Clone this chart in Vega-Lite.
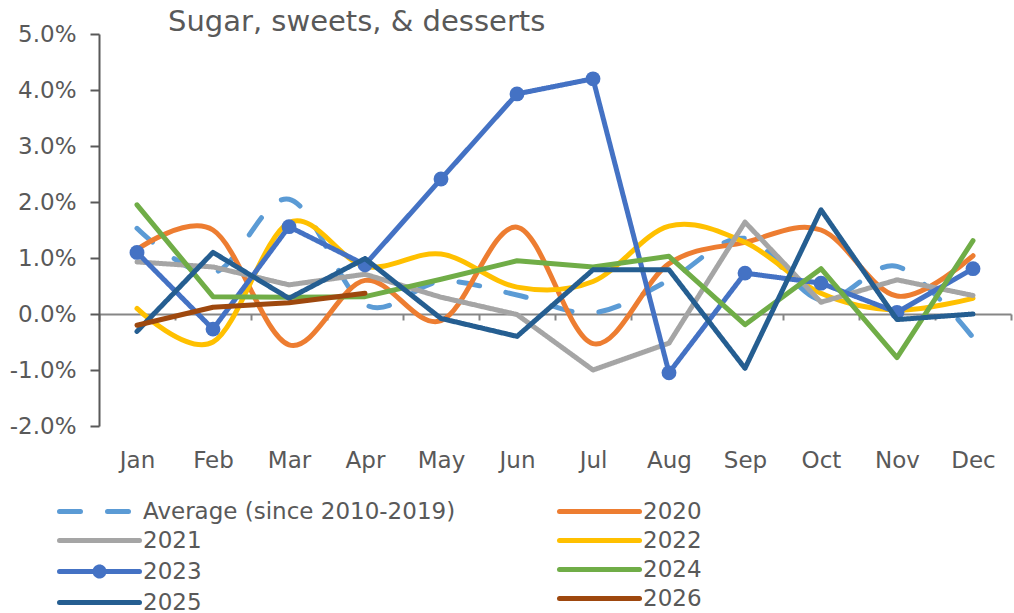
{
  "$schema": "https://vega.github.io/schema/vega-lite/v6.json",
  "width": 912,
  "height": 392,
  "autosize": {"type": "none"},
  "padding": {"left": 99, "top": 34, "right": 3, "bottom": 187},
  "background": "white",
  "config": {
    "font": "DejaVu Sans",
    "view": {"stroke": null},
    "legend": {"padding": 0}
  },
  "title": {
    "text": "Sugar, sweets, & desserts",
    "anchor": "start",
    "frame": "group",
    "dx": 69,
    "offset": -14,
    "fontSize": 29,
    "font": "DejaVu Sans",
    "fontWeight": "normal",
    "color": "#595959"
  },
  "data": {
    "values": [
      {"month": "Jan", "series": "Average (since 2010-2019)", "value": 1.53},
      {"month": "Feb", "series": "Average (since 2010-2019)", "value": 0.73},
      {"month": "Mar", "series": "Average (since 2010-2019)", "value": 2.05},
      {"month": "Apr", "series": "Average (since 2010-2019)", "value": 0.17},
      {"month": "May", "series": "Average (since 2010-2019)", "value": 0.58},
      {"month": "Jun", "series": "Average (since 2010-2019)", "value": 0.34},
      {"month": "Jul", "series": "Average (since 2010-2019)", "value": 0.02},
      {"month": "Aug", "series": "Average (since 2010-2019)", "value": 0.6},
      {"month": "Sep", "series": "Average (since 2010-2019)", "value": 1.35},
      {"month": "Oct", "series": "Average (since 2010-2019)", "value": 0.25},
      {"month": "Nov", "series": "Average (since 2010-2019)", "value": 0.85},
      {"month": "Dec", "series": "Average (since 2010-2019)", "value": -0.42},
      {"month": "Jan", "series": "2020", "value": 1.15},
      {"month": "Feb", "series": "2020", "value": 1.5},
      {"month": "Mar", "series": "2020", "value": -0.55},
      {"month": "Apr", "series": "2020", "value": 0.6},
      {"month": "May", "series": "2020", "value": -0.12},
      {"month": "Jun", "series": "2020", "value": 1.55},
      {"month": "Jul", "series": "2020", "value": -0.53},
      {"month": "Aug", "series": "2020", "value": 0.9},
      {"month": "Sep", "series": "2020", "value": 1.28},
      {"month": "Oct", "series": "2020", "value": 1.5},
      {"month": "Nov", "series": "2020", "value": 0.32},
      {"month": "Dec", "series": "2020", "value": 1.04},
      {"month": "Jan", "series": "2021", "value": 0.93},
      {"month": "Feb", "series": "2021", "value": 0.84},
      {"month": "Mar", "series": "2021", "value": 0.52},
      {"month": "Apr", "series": "2021", "value": 0.71},
      {"month": "May", "series": "2021", "value": 0.3},
      {"month": "Jun", "series": "2021", "value": -0.01},
      {"month": "Jul", "series": "2021", "value": -1.0},
      {"month": "Aug", "series": "2021", "value": -0.52},
      {"month": "Sep", "series": "2021", "value": 1.64},
      {"month": "Oct", "series": "2021", "value": 0.21},
      {"month": "Nov", "series": "2021", "value": 0.61},
      {"month": "Dec", "series": "2021", "value": 0.33},
      {"month": "Jan", "series": "2022", "value": 0.1},
      {"month": "Feb", "series": "2022", "value": -0.5},
      {"month": "Mar", "series": "2022", "value": 1.63},
      {"month": "Apr", "series": "2022", "value": 0.85},
      {"month": "May", "series": "2022", "value": 1.07},
      {"month": "Jun", "series": "2022", "value": 0.48},
      {"month": "Jul", "series": "2022", "value": 0.58},
      {"month": "Aug", "series": "2022", "value": 1.57},
      {"month": "Sep", "series": "2022", "value": 1.28},
      {"month": "Oct", "series": "2022", "value": 0.37},
      {"month": "Nov", "series": "2022", "value": 0.07},
      {"month": "Dec", "series": "2022", "value": 0.28},
      {"month": "Jan", "series": "2023", "value": 1.1},
      {"month": "Feb", "series": "2023", "value": -0.27},
      {"month": "Mar", "series": "2023", "value": 1.56},
      {"month": "Apr", "series": "2023", "value": 0.88},
      {"month": "May", "series": "2023", "value": 2.41},
      {"month": "Jun", "series": "2023", "value": 3.93},
      {"month": "Jul", "series": "2023", "value": 4.2},
      {"month": "Aug", "series": "2023", "value": -1.05},
      {"month": "Sep", "series": "2023", "value": 0.73},
      {"month": "Oct", "series": "2023", "value": 0.55},
      {"month": "Nov", "series": "2023", "value": 0.03},
      {"month": "Dec", "series": "2023", "value": 0.81},
      {"month": "Jan", "series": "2024", "value": 1.95},
      {"month": "Feb", "series": "2024", "value": 0.31},
      {"month": "Mar", "series": "2024", "value": 0.3},
      {"month": "Apr", "series": "2024", "value": 0.31},
      {"month": "May", "series": "2024", "value": 0.62},
      {"month": "Jun", "series": "2024", "value": 0.95},
      {"month": "Jul", "series": "2024", "value": 0.84},
      {"month": "Aug", "series": "2024", "value": 1.03},
      {"month": "Sep", "series": "2024", "value": -0.19},
      {"month": "Oct", "series": "2024", "value": 0.81},
      {"month": "Nov", "series": "2024", "value": -0.78},
      {"month": "Dec", "series": "2024", "value": 1.31},
      {"month": "Jan", "series": "2025", "value": -0.31},
      {"month": "Feb", "series": "2025", "value": 1.1},
      {"month": "Mar", "series": "2025", "value": 0.28},
      {"month": "Apr", "series": "2025", "value": 0.99},
      {"month": "May", "series": "2025", "value": -0.08},
      {"month": "Jun", "series": "2025", "value": -0.4},
      {"month": "Jul", "series": "2025", "value": 0.79},
      {"month": "Aug", "series": "2025", "value": 0.79},
      {"month": "Sep", "series": "2025", "value": -0.97},
      {"month": "Oct", "series": "2025", "value": 1.86},
      {"month": "Nov", "series": "2025", "value": -0.1},
      {"month": "Dec", "series": "2025", "value": 0.0},
      {"month": "Jan", "series": "2026", "value": -0.2},
      {"month": "Feb", "series": "2026", "value": 0.12},
      {"month": "Mar", "series": "2026", "value": 0.2},
      {"month": "Apr", "series": "2026", "value": 0.37}
    ]
  },
  "encoding": {
    "x": {
      "field": "month",
      "type": "ordinal",
      "sort": ["Jan","Feb","Mar","Apr","May","Jun","Jul","Aug","Sep","Oct","Nov","Dec"],
      "scale": {"type": "band", "domain": ["Jan","Feb","Mar","Apr","May","Jun","Jul","Aug","Sep","Oct","Nov","Dec"], "paddingInner": 0, "paddingOuter": 0},
      "axis": {
        "title": null,
        "orient": "bottom",
        "offset": -112,
        "labelAngle": 0,
        "domainColor": "#868686",
        "domainWidth": 2,
        "tickColor": "#868686",
        "tickWidth": 2,
        "tickSize": 6,
        "tickBand": "extent",
        "labelPadding": 129,
        "labelFontSize": 23,
        "labelColor": "#595959",
        "grid": false
      }
    },
    "y": {
      "field": "value",
      "type": "quantitative",
      "scale": {"domain": [-2, 5], "nice": false, "zero": false},
      "axis": {
        "title": null,
        "values": [-2, -1, 0, 1, 2, 3, 4, 5],
        "labelExpr": "(datum.value < 0 ? '-' : '') + format(abs(datum.value), '.1f') + '%'",
        "domainColor": "#595959",
        "domainWidth": 2,
        "tickColor": "#595959",
        "tickWidth": 2,
        "tickSize": 9,
        "labelPadding": 14,
        "labelFontSize": 23,
        "labelColor": "#595959",
        "grid": false
      }
    }
  },
  "layer": [
    {
      "transform": [{"filter": "datum.series === 'Average (since 2010-2019)'"}],
      "mark": {"type": "line", "interpolate": "cardinal", "strokeWidth": 5, "strokeCap": "round"},
      "encoding": {
        "stroke": {
          "field": "series", "type": "nominal",
          "scale": {"domain": ["Average (since 2010-2019)", "2021", "2023", "2025"], "range": ["#5B9BD5", "#A5A5A5", "#4472C4", "#255E91"]},
          "legend": {
            "title": null, "orient": "none", "legendX": -12, "legendY": 465,
            "symbolType": "M-4,0H4", "symbolSize": 400, "symbolStrokeWidth": 5,
            "labelOffset": 31, "labelFontSize": 23, "labelColor": "#595959", "labelLimit": 600, "rowPadding": 4,
            "encode": {"symbols": {"update": {
              "shape": {"signal": "datum.value === '2023' ? 'M-4,0H4M-0.45,0A0.45,0.45 0 1,1 0.45,0A0.45,0.45 0 1,1 -0.45,0' : 'M-4,0H4'"},
              "fill": {"signal": "datum.value === '2023' ? '#4472C4' : 'transparent'"},
              "strokeCap": {"value": "round"}
            }}}
          }
        },
        "strokeDash": {
          "field": "series", "type": "nominal",
          "scale": {"domain": ["Average (since 2010-2019)", "2021", "2023", "2025"], "range": [[21, 27], [1, 0], [1, 0], [1, 0]]},
          "legend": {
            "title": null, "orient": "none", "legendX": -12, "legendY": 465,
            "symbolType": "M-4,0H4", "symbolSize": 400, "symbolStrokeWidth": 5,
            "labelOffset": 31, "labelFontSize": 23, "labelColor": "#595959", "labelLimit": 600, "rowPadding": 4
          }
        }
      }
    },
    {
      "transform": [{"filter": "datum.series === '2020' || datum.series === '2022'"}],
      "mark": {"type": "line", "interpolate": "cardinal", "strokeWidth": 5, "strokeCap": "round"},
      "encoding": {
        "color": {
          "field": "series", "type": "nominal",
          "scale": {"domain": ["2020", "2022", "2024", "2026"], "range": ["#ED7D31", "#FFC000", "#70AD47", "#9E480E"]},
          "legend": {
            "title": null, "orient": "none", "legendX": 488, "legendY": 465,
            "symbolType": "M-4,0H4", "symbolSize": 400, "symbolStrokeWidth": 5,
            "labelOffset": 31, "labelFontSize": 23, "labelColor": "#595959", "labelLimit": 600, "rowPadding": 4,
            "encode": {"symbols": {"update": {"strokeCap": {"value": "round"}}}}
          }
        }
      }
    },
    {
      "transform": [{"filter": "datum.series === '2021'"}],
      "mark": {"type": "line", "strokeWidth": 5, "strokeCap": "round", "strokeJoin": "round"},
      "encoding": {
        "stroke": {"field": "series", "type": "nominal"},
        "strokeDash": {"field": "series", "type": "nominal"}
      }
    },
    {
      "transform": [{"filter": "datum.series === '2023'"}],
      "mark": {"type": "line", "strokeWidth": 5, "strokeCap": "round", "strokeJoin": "round"},
      "encoding": {
        "stroke": {"field": "series", "type": "nominal"},
        "strokeDash": {"field": "series", "type": "nominal"}
      }
    },
    {
      "transform": [{"filter": "datum.series === '2023'"}],
      "mark": {"type": "point", "filled": true, "size": 220, "color": "#4472C4", "opacity": 1},
      "encoding": {}
    },
    {
      "transform": [{"filter": "datum.series === '2024'"}],
      "mark": {"type": "line", "strokeWidth": 5, "strokeCap": "round", "strokeJoin": "round"},
      "encoding": {
        "color": {"field": "series", "type": "nominal"}
      }
    },
    {
      "transform": [{"filter": "datum.series === '2025'"}],
      "mark": {"type": "line", "strokeWidth": 5, "strokeCap": "round", "strokeJoin": "round"},
      "encoding": {
        "stroke": {"field": "series", "type": "nominal"},
        "strokeDash": {"field": "series", "type": "nominal"}
      }
    },
    {
      "transform": [{"filter": "datum.series === '2026'"}],
      "mark": {"type": "line", "strokeWidth": 5, "strokeCap": "round", "strokeJoin": "round"},
      "encoding": {
        "color": {"field": "series", "type": "nominal"}
      }
    }
  ]
}
